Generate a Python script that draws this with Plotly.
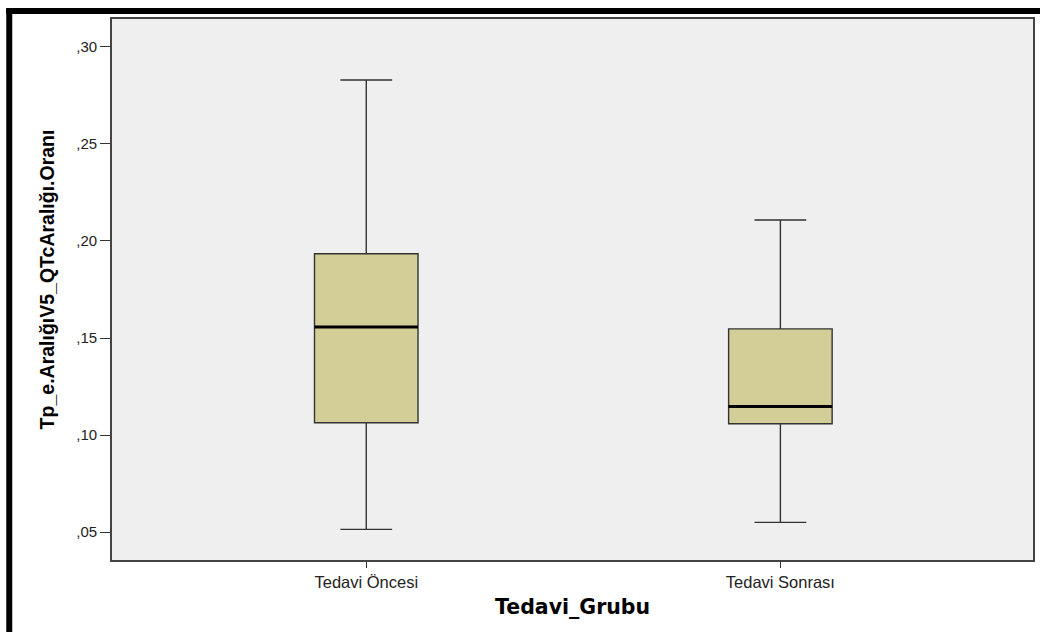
import plotly.graph_objects as go

# Box summary statistics for each treatment group
groups = ["Tedavi Öncesi", "Tedavi Sonrası"]
lower_whisker = [0.0514, 0.0550]
q1_values = [0.1063, 0.1058]
median_values = [0.1557, 0.1147]
q3_values = [0.1934, 0.1547]
upper_whisker = [0.2830, 0.2108]

y_tick_values = [0.05, 0.10, 0.15, 0.20, 0.25, 0.30]
y_tick_labels = [",05", ",10", ",15", ",20", ",25", ",30"]

box_width = 0.25
positions = list(range(len(groups)))

fig = go.Figure()

fig.add_trace(go.Box(
    x=positions,
    q1=q1_values,
    median=median_values,
    q3=q3_values,
    lowerfence=lower_whisker,
    upperfence=upper_whisker,
    width=box_width,
    whiskerwidth=0.5,
    fillcolor="rgb(211,206,151)",
    line=dict(color="#333333", width=1.4),
    boxpoints=False,
    hoverinfo="skip",
    showlegend=False,
))

# Heavier median bars drawn on top of each box
for pos, med in zip(positions, median_values):
    fig.add_trace(go.Scatter(
        x=[pos - box_width / 2, pos + box_width / 2],
        y=[med, med],
        mode="lines",
        line=dict(color="#000000", width=3),
        hoverinfo="skip",
        showlegend=False,
    ))

# Heavy black frame along the top and left edges of the page
fig.add_shape(type="rect", xref="paper", yref="paper",
              x0=-0.1148, x1=1.2, y0=1.0092, y1=1.0203,
              fillcolor="black", line=dict(width=0), layer="above")
fig.add_shape(type="rect", xref="paper", yref="paper",
              x0=-0.1148, x1=-0.1083, y0=-0.2, y1=1.0203,
              fillcolor="black", line=dict(width=0), layer="above")

# Axis titles
fig.add_annotation(
    text="Tp_e.AralığıV5_QTcAralığı.Oranı",
    xref="paper", yref="paper", x=-0.0704, y=0.519,
    xanchor="center", yanchor="middle", textangle=-90, showarrow=False,
    font=dict(family="Liberation Sans Narrow, Arial Narrow, sans-serif", size=19.5,
              color="#000000", weight="bold"),
)
fig.add_annotation(
    text="Tedavi_Grubu",
    xref="paper", yref="paper", x=0.5, y=-0.087,
    xanchor="center", yanchor="middle", showarrow=False,
    font=dict(family="DejaVu Sans, sans-serif", size=20.5, color="#000000", weight="bold"),
)

fig.update_layout(
    width=1040,
    height=632,
    margin=dict(l=112, r=5, t=19, b=72),
    paper_bgcolor="white",
    plot_bgcolor="#efefef",
    font=dict(family="Liberation Sans, Arial, sans-serif", color="#111111", size=12),
    xaxis=dict(
        range=[-0.614, 1.61],
        tickvals=positions,
        ticktext=groups,
        ticks="outside",
        ticklen=6,
        tickwidth=1.2,
        tickcolor="#333333",
        showgrid=False,
        zeroline=False,
        showline=True,
        mirror=True,
        linecolor="#444444",
        linewidth=1.6,
        tickfont=dict(size=16.5, color="#222222"),
    ),
    yaxis=dict(
        range=[0.0356, 0.3144],
        tickvals=y_tick_values,
        ticktext=y_tick_labels,
        ticks="outside",
        ticklen=10,
        tickwidth=1.2,
        tickcolor="#333333",
        showgrid=False,
        zeroline=False,
        showline=True,
        mirror=True,
        linecolor="#444444",
        linewidth=1.6,
        tickfont=dict(size=15, color="#222222"),
    ),
)

fig.write_html("out.html")
